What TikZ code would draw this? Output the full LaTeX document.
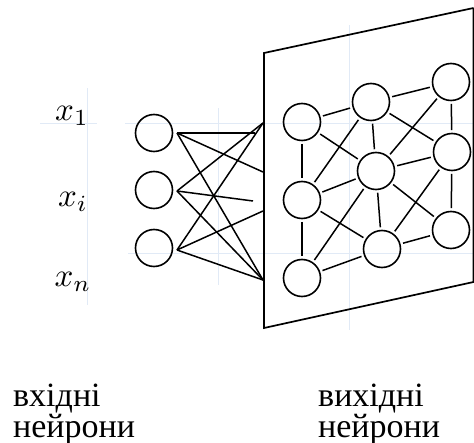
\documentclass[tikz,border=0pt]{standalone}
\usepackage{fontspec}
\setmainfont{Liberation Serif}
\begin{document}
\begin{tikzpicture}[x=1pt,y=-1pt,
  neuron/.style={circle,draw=black,line width=1.6pt,minimum size=37pt,inner sep=0pt},
  link/.style={line width=1.5pt,black},
  glink/.style={line width=1.5pt,black,shorten <=2.5pt,shorten >=2.5pt},
  plane/.style={line width=1.7pt,black},
  faint/.style={line width=0.8pt,color={rgb,255:red,225;green,234;blue,246}},
  lab/.style={font=\fontsize{34}{27.5}\selectfont,align=left,anchor=north west,inner sep=0pt},
  xlab/.style={scale=3.3,inner sep=0pt}]
\useasboundingbox (0,0) rectangle (474,443);
% faint grid
\draw[faint] (87,88) -- (87,305);
\draw[faint] (218,108) -- (218,285);
\draw[faint] (349,25) -- (349,330);
\draw[faint] (40,123) -- (97,123);
\draw[faint] (125,123) -- (474,123);
\draw[faint] (128,253) -- (474,253);
% plane
\coordinate (TL) at (264,53);
\coordinate (TR) at (473.5,8);
\coordinate (BL) at (264,328);
\coordinate (BR) at (473.5,282);
\draw[plane] (TR) -- (TL) -- (BL) -- (BR) -- (TR);
% labels
\node[xlab] (lx1) at (72,116) {$x_1$};
\node[xlab] (lxi) at (73,202) {$x_i$};
\node[xlab] (lxn) at (73,282) {$x_n$};
% input neurons
\node[neuron] (n1) at (154,133) {};
\node[neuron] (ni) at (154,190) {};
\node[neuron] (nn) at (154,248) {};
% plane contact points
\coordinate (P1) at (263,123);
\coordinate (P2) at (263,172);
\coordinate (P3) at (253,201);
\coordinate (P4) at (263,211);
\coordinate (P5) at (263,280);
\coordinate (Ph) at (255,133);
\coordinate (s1) at (177,133);
\coordinate (si) at (177,191);
\coordinate (sn) at (177,250);
\draw[link] (s1) -- (Ph);
\draw[link] (s1) -- (P2);
\draw[link] (s1) -- (P5);
\draw[link] (si) -- (P1);
\draw[link] (si) -- (P3);
\draw[link] (si) -- (P5);
\draw[link] (sn) -- (P1);
\draw[link] (sn) -- (P4);
\draw[link] (sn) -- (P5);
% output neurons
\node[neuron] (A) at (302,122) {};
\node[neuron] (B) at (371,102) {};
\node[neuron] (C) at (451,82) {};
\node[neuron] (D) at (302,200) {};
\node[neuron] (E) at (376,171) {};
\node[neuron] (F) at (452,152) {};
\node[neuron] (G) at (302,278) {};
\node[neuron] (H) at (382,249) {};
\node[neuron] (I) at (451,230) {};
\foreach \a/\b in {A/B,B/C,A/D,D/G,C/F,F/I,B/E,E/H,G/H,H/I,A/E,E/I,B/F,D/H,D/B,C/E,F/E,D/E,G/E,H/F}
  \draw[glink] (\a) -- (\b);
% bottom texts
\node[lab] (t1) at (13,383.5) {вхідні\\нейрони};
\node[lab] (t2) at (318,383.5) {вихідні\\нейрони};
\end{tikzpicture}
\end{document}
